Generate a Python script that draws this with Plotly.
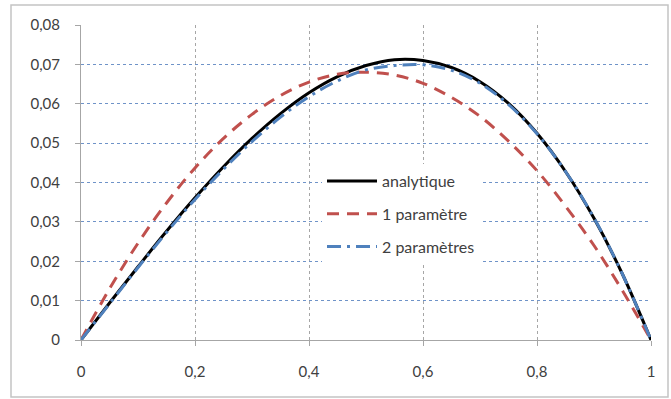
import plotly.graph_objects as go

x_vals = [0, 0.05, 0.1, 0.15, 0.2, 0.25, 0.3, 0.35, 0.4, 0.45, 0.5,
          0.55, 0.6, 0.65, 0.7, 0.75, 0.8, 0.85, 0.9, 0.95, 1]
analytique = [0, 0.0094, 0.0186, 0.0276, 0.0361, 0.0440, 0.0512, 0.0575, 0.0628,
              0.0669, 0.0697, 0.0712, 0.0710, 0.0692, 0.0656, 0.0601, 0.0525,
              0.0428, 0.0309, 0.0167, 0]
un_param = [0, 0.0130, 0.0246, 0.0348, 0.0437, 0.0512, 0.0573, 0.0621, 0.0655,
            0.0675, 0.0680, 0.0673, 0.0652, 0.0616, 0.0568, 0.0505, 0.0430,
            0.0340, 0.0240, 0.0125, 0]
deux_param = [0, 0.0092, 0.0184, 0.0273, 0.0357, 0.0434, 0.0504, 0.0566, 0.0618,
              0.0658, 0.0686, 0.0697, 0.0699, 0.0685, 0.0652, 0.0598, 0.0524,
              0.0428, 0.0310, 0.0167, 0]
series_names = ["analytique", "1 paramètre", "2 paramètres"]

x_ticks = [0, 0.2, 0.4, 0.6, 0.8, 1]
x_ticktext = ["0", "0,2", "0,4", "0,6", "0,8", "1"]
y_ticks = [0, 0.01, 0.02, 0.03, 0.04, 0.05, 0.06, 0.07, 0.08]
y_ticktext = ["0", "0,01", "0,02", "0,03", "0,04", "0,05", "0,06", "0,07", "0,08"]

FONT = "Lato, 'Open Sans', sans-serif"

fig = go.Figure()
fig.add_trace(go.Scatter(x=x_vals, y=analytique, name=series_names[0], mode="lines",
                         legendgroup="a",
                         line=dict(color="#000000", width=3, shape="spline")))
fig.add_trace(go.Scatter(x=x_vals, y=un_param, name=series_names[1], mode="lines",
                         legendgroup="b",
                         line=dict(color="#C0504D", width=3, shape="spline", dash="12px,8px")))
fig.add_trace(go.Scatter(x=x_vals, y=deux_param, name=series_names[2], mode="lines",
                         legendgroup="c",
                         line=dict(color="#4F81BD", width=3, shape="spline", dash="14px,6px,3px,6px")))

W, H = 671, 399
L, R, T, B = 81, 20, 25, 59
pw, ph = W - L - R, H - T - B

def px_x(p):
    return (p - L) / pw

def px_y(p):
    return (H - B - p) / ph

fig.update_layout(
    width=W, height=H,
    margin=dict(l=L, r=R, t=T, b=B),
    paper_bgcolor="white", plot_bgcolor="white",
    font=dict(family=FONT, size=15, color="#404040"),
    showlegend=True,
    legend=dict(x=px_x(322), y=px_y(164), xanchor="left", yanchor="top",
                bgcolor="white", font=dict(size=16, color="#404040"),
                tracegroupgap=9, itemwidth=50),
    xaxis=dict(range=[0, 1], tickvals=x_ticks, ticktext=x_ticktext,
               showgrid=True, gridcolor="#A6A6A6", griddash="dot", gridwidth=1,
               showline=True, linecolor="#A6A6A6", linewidth=1,
               ticks="outside", ticklen=5, tickcolor="#A6A6A6",
               ticklabelstandoff=13, zeroline=False, fixedrange=True),
    yaxis=dict(range=[0, 0.08], tickvals=y_ticks, ticktext=y_ticktext,
               showgrid=True, gridcolor="#6F93C8", griddash="dot", gridwidth=1,
               showline=True, linecolor="#A6A6A6", linewidth=1,
               ticks="outside", ticklen=5, tickcolor="#A6A6A6",
               ticklabelstandoff=12, zeroline=False, fixedrange=True),
)

# outer chart border
fig.add_shape(type="rect", xref="paper", yref="paper",
              x0=px_x(11), x1=px_x(668), y0=px_y(397), y1=px_y(5),
              line=dict(color="#C4C4C4", width=1.5), fillcolor="rgba(0,0,0,0)",
              layer="below")

fig.write_html("out.html", config={"displayModeBar": False, "staticPlot": True},
               post_script="document.body.style.margin='0';document.body.style.overflow='hidden';")
